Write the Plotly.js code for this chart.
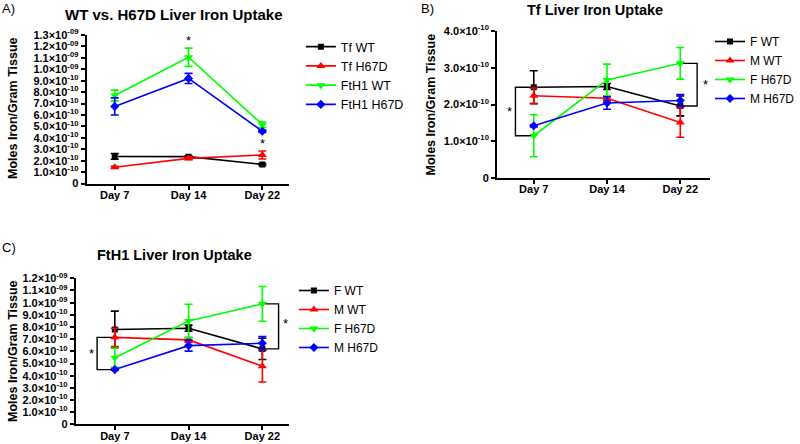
<!DOCTYPE html>
<html>
<head>
<meta charset="utf-8">
<script src="https://cdn.plot.ly/plotly-3.0.1.min.js"></script>
<style>html,body{margin:0;padding:0;background:#fff;}#chart{width:800px;height:444px;}</style>
</head>
<body>
<div id="chart"></div>
<script>
// ---------- data ----------
const days = ['Day 7', 'Day 14', 'Day 22'];

// Panel A: WT vs. H67D
const aNames = ['Tf WT', 'Tf H67D', 'FtH1 WT', 'FtH1 H67D'];
const aTfWT = [2.37e-10, 2.35e-10, 1.67e-10];
const aTfWTErr = [0.25e-10, 0.08e-10, 0.08e-10];
const aTfH67D = [1.42e-10, 2.2e-10, 2.5e-10];
const aTfH67DErr = [0.08e-10, 0.12e-10, 0.35e-10];
const aFtH1WT = [7.7e-10, 11.05e-10, 5.15e-10];
const aFtH1WTErr = [0.47e-10, 0.8e-10, 0.25e-10];
const aFtH1H67D = [6.75e-10, 9.2e-10, 4.57e-10];
const aFtH1H67DErr = [0.75e-10, 0.44e-10, 0.1e-10];
const aTickVals = [0, 1e-10, 2e-10, 3e-10, 4e-10, 5e-10, 6e-10, 7e-10, 8e-10, 9e-10, 1.0e-9, 1.1e-9, 1.2e-9, 1.3e-9];
const aTickText = ['0', '1.0×10<sup>-10</sup>', '2.0×10<sup>-10</sup>', '3.0×10<sup>-10</sup>', '4.0×10<sup>-10</sup>',
  '5.0×10<sup>-10</sup>', '6.0×10<sup>-10</sup>', '7.0×10<sup>-10</sup>', '8.0×10<sup>-10</sup>', '9.0×10<sup>-10</sup>',
  '1.0×10<sup>-09</sup>', '1.1×10<sup>-09</sup>', '1.2×10<sup>-09</sup>', '1.3×10<sup>-09</sup>'];

// Panel B: Tf
const bNames = ['F WT', 'M WT', 'F H67D', 'M H67D'];
const bFWT = [2.47e-10, 2.49e-10, 1.96e-10];
const bFWTErr = [0.45e-10, 0.08e-10, 0.27e-10];
const bMWT = [2.24e-10, 2.17e-10, 1.51e-10];
const bMWTErr = [0.21e-10, 0.07e-10, 0.4e-10];
const bFH67D = [1.15e-10, 2.67e-10, 3.12e-10];
const bFH67DErr = [0.57e-10, 0.43e-10, 0.43e-10];
const bMH67D = [1.42e-10, 2.04e-10, 2.11e-10];
const bMH67DErr = [0.03e-10, 0.17e-10, 0.16e-10];
const bTickVals = [0, 1e-10, 2e-10, 3e-10, 4e-10];
const bTickText = ['0', '1.0×10<sup>-10</sup>', '2.0×10<sup>-10</sup>', '3.0×10<sup>-10</sup>', '4.0×10<sup>-10</sup>'];

// Panel C: FtH1
const cNames = ['F WT', 'M WT', 'F H67D', 'M H67D'];
const cFWT = [7.8e-10, 7.9e-10, 6.2e-10];
const cFWTErr = [1.5e-10, 0.25e-10, 0.87e-10];
const cMWT = [7.15e-10, 6.94e-10, 4.78e-10];
const cMWTErr = [0.75e-10, 0.2e-10, 1.3e-10];
const cFH67D = [5.48e-10, 8.5e-10, 9.9e-10];
const cFH67DErr = [0.8e-10, 1.37e-10, 1.43e-10];
const cMH67D = [4.5e-10, 6.47e-10, 6.66e-10];
const cMH67DErr = [0.05e-10, 0.45e-10, 0.55e-10];
const cTickVals = [0, 1e-10, 2e-10, 3e-10, 4e-10, 5e-10, 6e-10, 7e-10, 8e-10, 9e-10, 1.0e-9, 1.1e-9, 1.2e-9];
const cTickText = ['0', '1.0×10<sup>-10</sup>', '2.0×10<sup>-10</sup>', '3.0×10<sup>-10</sup>', '4.0×10<sup>-10</sup>',
  '5.0×10<sup>-10</sup>', '6.0×10<sup>-10</sup>', '7.0×10<sup>-10</sup>', '8.0×10<sup>-10</sup>', '9.0×10<sup>-10</sup>',
  '1.0×10<sup>-09</sup>', '1.1×10<sup>-09</sup>', '1.2×10<sup>-09</sup>'];

const panelTitles = ['WT vs. H67D Liver Iron Uptake', 'Tf Liver Iron Uptake', 'FtH1 Liver Iron Uptake'];
const yTitle = 'Moles Iron/Gram Tissue';

// ---------- styling ----------
const FONT = 'Liberation Sans, Arial, Helvetica, sans-serif';
const COLORS = ['#000000', '#ff0000', '#00ff00', '#0000ff'];
const SYMBOLS = ['square', 'triangle-up', 'triangle-down', 'diamond'];
const SIZES = [6, 8, 8, 7];
const xIdx = days.map((d, i) => i);

function mk(name, y, err, k, xa, ya, legend) {
  return {
    type: 'scatter', mode: 'lines+markers', name: name, x: xIdx, y: y,
    xaxis: xa, yaxis: ya, legend: legend,
    line: {color: COLORS[k], width: 1.6},
    marker: {color: COLORS[k], symbol: SYMBOLS[k], size: SIZES[k]},
    error_y: {type: 'data', array: err, visible: true, color: COLORS[k], thickness: 1.6, width: 4},
    hoverinfo: 'skip'
  };
}

function bracket(xa, ya, i, yTop, yBot, dir, reach) {
  // significance bracket joining two series at day index i
  const xo = i + dir * reach;
  return {
    type: 'scatter', mode: 'lines', showlegend: false, hoverinfo: 'skip',
    xaxis: xa, yaxis: ya,
    x: [i + dir * 0.04, xo, xo, i + dir * 0.04], y: [yTop, yTop, yBot, yBot],
    line: {color: '#000', width: 1.4}
  };
}

const traces = [
  mk(aNames[0], aTfWT, aTfWTErr, 0, 'x', 'y', 'legend'),
  mk(aNames[1], aTfH67D, aTfH67DErr, 1, 'x', 'y', 'legend'),
  mk(aNames[2], aFtH1WT, aFtH1WTErr, 2, 'x', 'y', 'legend'),
  mk(aNames[3], aFtH1H67D, aFtH1H67DErr, 3, 'x', 'y', 'legend'),

  mk(bNames[0], bFWT, bFWTErr, 0, 'x2', 'y2', 'legend2'),
  mk(bNames[1], bMWT, bMWTErr, 1, 'x2', 'y2', 'legend2'),
  mk(bNames[2], bFH67D, bFH67DErr, 2, 'x2', 'y2', 'legend2'),
  mk(bNames[3], bMH67D, bMH67DErr, 3, 'x2', 'y2', 'legend2'),

  mk(cNames[0], cFWT, cFWTErr, 0, 'x3', 'y3', 'legend3'),
  mk(cNames[1], cMWT, cMWTErr, 1, 'x3', 'y3', 'legend3'),
  mk(cNames[2], cFH67D, cFH67DErr, 2, 'x3', 'y3', 'legend3'),
  mk(cNames[3], cMH67D, cMH67DErr, 3, 'x3', 'y3', 'legend3'),

  bracket('x2', 'y2', 0, bFWT[0], bFH67D[0], -1, 0.25),
  bracket('x2', 'y2', 2, bFH67D[2], bFWT[2], 1, 0.23),
  bracket('x3', 'y3', 0, cMWT[0], cMH67D[0], -1, 0.24),
  bracket('x3', 'y3', 2, cFH67D[2], cFWT[2], 1, 0.22)
];

function xax(domain, range, anchor) {
  return {
    domain: domain, range: range, anchor: anchor,
    tickvals: xIdx, ticktext: days,
    showline: true, linecolor: '#000', linewidth: 2,
    ticks: 'outside', ticklen: 4, tickwidth: 2, tickcolor: '#000',
    ticklabelstandoff: -4,
    showgrid: false, zeroline: false, fixedrange: true,
    tickfont: {family: FONT, size: 11, color: '#000', weight: 'bold'}
  };
}
function yax(domain, range, anchor, tv, tt) {
  return {
    domain: domain, range: range, anchor: anchor,
    tickvals: tv, ticktext: tt,
    showline: true, linecolor: '#000', linewidth: 2,
    ticks: 'outside', ticklen: 4, tickwidth: 2, tickcolor: '#000',
    showgrid: false, zeroline: false, fixedrange: true,
    tickfont: {family: FONT, size: 11, color: '#000', weight: 'bold'}
  };
}

function ann(text, x, y, size, bold, extra) {
  return Object.assign({
    xref: 'paper', yref: 'paper', x: x, y: y, text: text, showarrow: false,
    xanchor: 'center', yanchor: 'middle',
    font: {family: FONT, size: size, color: '#000', weight: bold ? 'bold' : 'normal'}
  }, extra || {});
}
function star(xa, ya, x, y, extra) {
  return Object.assign({
    xref: xa, yref: ya, x: x, y: y, text: '*', showarrow: false,
    xanchor: 'center', yanchor: 'middle',
    font: {family: FONT, size: 13, color: '#000'}
  }, extra || {});
}

const W = 800, H = 444;
const px = v => v / W, py = v => 1 - v / H;

const legendBase = {
  bgcolor: 'rgba(0,0,0,0)', borderwidth: 0, xanchor: 'left', yanchor: 'top',
  itemclick: false, itemdoubleclick: false, tracegroupgap: 0
};

const layout = {
  width: W, height: H,
  margin: {l: 0, r: 0, t: 0, b: 0},
  paper_bgcolor: '#fff', plot_bgcolor: '#fff',
  font: {family: FONT, color: '#000'},
  xaxis: xax([px(87), px(290)], [-0.38, 2.36], 'y'),
  yaxis: yax([py(183.5), py(35)], [0, 1.3e-9], 'x', aTickVals, aTickText),
  xaxis2: xax([px(499), px(713)], [-0.5, 2.41], 'y2'),
  yaxis2: yax([py(178), py(31)], [0, 4e-10], 'x2', bTickVals, bTickText),
  xaxis3: xax([px(76), px(290)], [-0.53, 2.36], 'y3'),
  yaxis3: yax([py(424.4), py(278.3)], [0, 1.2e-9], 'x3', cTickVals, cTickText),
  legend: Object.assign({}, legendBase, {x: px(302), y: py(32), font: {family: FONT, size: 12.5, color: '#000'}}),
  legend2: Object.assign({}, legendBase, {x: px(713), y: py(27), font: {family: FONT, size: 12, color: '#000'}}),
  legend3: Object.assign({}, legendBase, {x: px(295), y: py(276), font: {family: FONT, size: 12, color: '#000'}}),
  annotations: [
    ann('A)', px(9), py(8), 13, false),
    ann('B)', px(429), py(8), 13, false),
    ann('C)', px(9), py(248), 13, false),
    ann(panelTitles[0], px(175), py(15), 15, true),
    ann(panelTitles[1], px(597), py(10), 14.5, true),
    ann(panelTitles[2], px(175), py(254.5), 14.5, true),
    ann(yTitle, px(13), py(108), 12.5, true, {textangle: -90}),
    ann(yTitle, px(433), py(104), 12.5, true, {textangle: -90}),
    ann(yTitle, px(13), py(351), 12.5, true, {textangle: -90}),
    star('x', 'y', 1, aFtH1WT[1] + aFtH1WTErr[1], {yanchor: 'bottom', yshift: -2}),
    star('x', 'y', 2, aTfH67D[2] + aTfH67DErr[2], {yanchor: 'bottom', yshift: -2}),
    star('x2', 'y2', -0.33, (bFWT[0] + bFH67D[0]) / 2),
    star('x2', 'y2', 2.34, (bFH67D[2] + bFWT[2]) / 2),
    star('x3', 'y3', -0.31, (cMWT[0] + cMH67D[0]) / 2),
    star('x3', 'y3', 2.31, (cFH67D[2] + cFWT[2]) / 2, {yshift: 3})
  ]
};

Plotly.newPlot('chart', traces, layout, {staticPlot: true, displayModeBar: false});
</script>
</body>
</html>
